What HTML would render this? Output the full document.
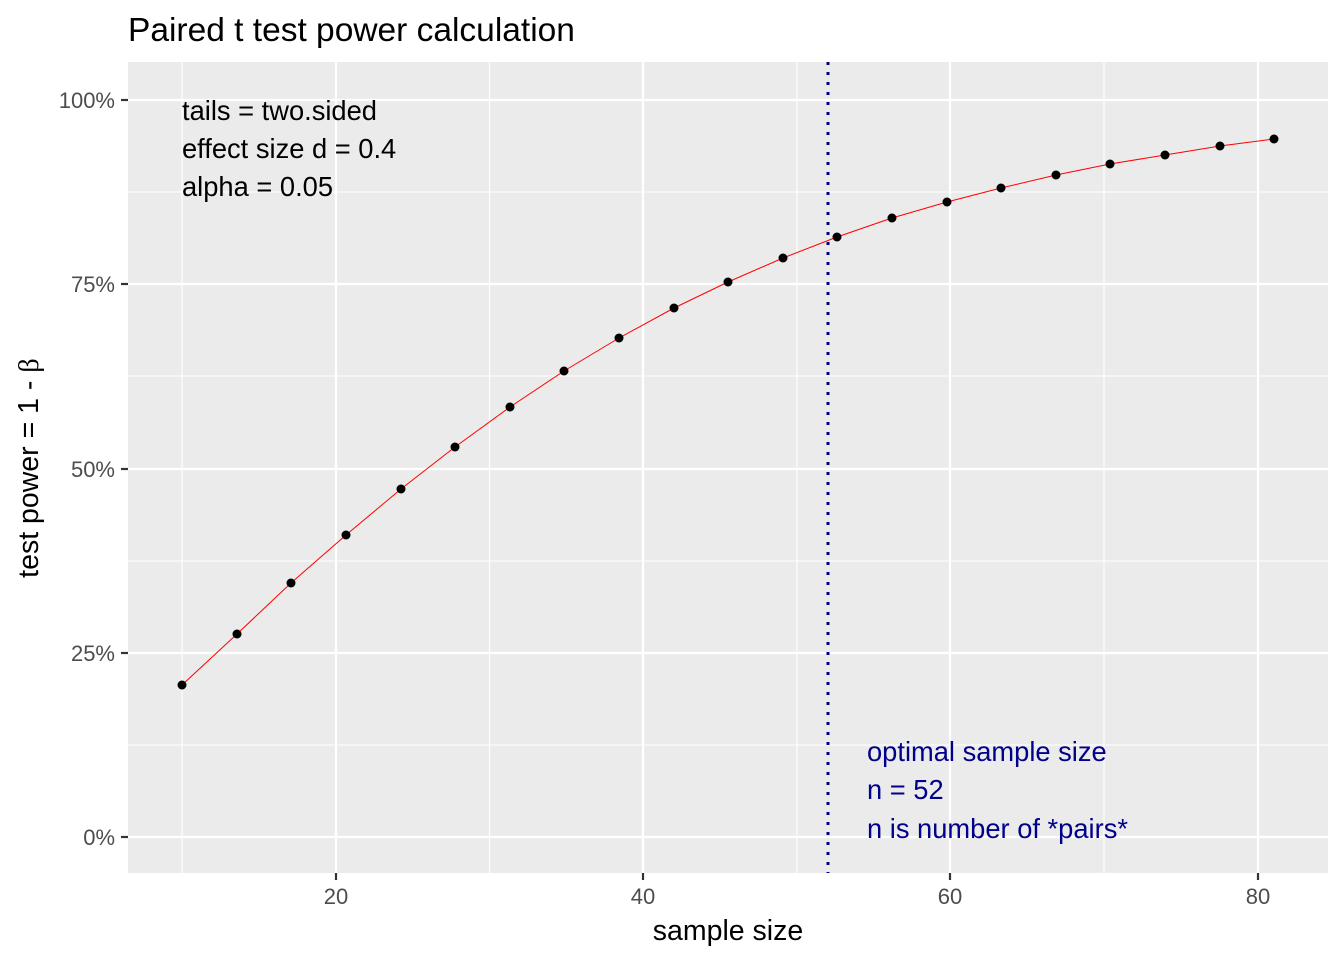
<!DOCTYPE html>
<html><head><meta charset="utf-8"><style>
html,body{margin:0;padding:0;background:#fff;}
svg{display:block;font-family:"Liberation Sans",sans-serif;}
</style></head><body>
<svg width="1344" height="960" viewBox="0 0 1344 960" xmlns="http://www.w3.org/2000/svg">
<rect width="1344" height="960" fill="#fff"/>
<text x="128" y="41" font-size="33.5" fill="#000">Paired t test power calculation</text>
<rect x="128" y="62" width="1200" height="811" fill="#ebebeb"/>
<g stroke="#fff" stroke-width="1.1">
<line x1="128" x2="1328" y1="745" y2="745"/><line x1="128" x2="1328" y1="561" y2="561"/>
<line x1="128" x2="1328" y1="376" y2="376"/><line x1="128" x2="1328" y1="192" y2="192"/>
<line x1="182" x2="182" y1="62" y2="873"/><line x1="489.5" x2="489.5" y1="62" y2="873"/>
<line x1="797" x2="797" y1="62" y2="873"/><line x1="1104" x2="1104" y1="62" y2="873"/>
</g>
<g stroke="#fff" stroke-width="2.2">
<line x1="128" x2="1328" y1="837" y2="837"/><line x1="128" x2="1328" y1="653" y2="653"/>
<line x1="128" x2="1328" y1="469" y2="469"/><line x1="128" x2="1328" y1="284" y2="284"/>
<line x1="128" x2="1328" y1="100" y2="100"/>
<line x1="336" x2="336" y1="62" y2="873"/><line x1="643" x2="643" y1="62" y2="873"/>
<line x1="950" x2="950" y1="62" y2="873"/><line x1="1258" x2="1258" y1="62" y2="873"/>
</g>
<polyline fill="none" stroke="#ff0000" stroke-width="1" points="182,685 237,634 291,583 346,535 401,489 455,447 510,407 564,371 619,338 674,308 728,282 783,258 837,237 892,218 947,202 1001,188 1056,175 1110,164 1165,155 1220,146 1274,139"/>
<g fill="#000">
<circle cx="182" cy="685" r="4.5"/><circle cx="237" cy="634" r="4.5"/><circle cx="291" cy="583" r="4.5"/>
<circle cx="346" cy="535" r="4.5"/><circle cx="401" cy="489" r="4.5"/><circle cx="455" cy="447" r="4.5"/>
<circle cx="510" cy="407" r="4.5"/><circle cx="564" cy="371" r="4.5"/><circle cx="619" cy="338" r="4.5"/>
<circle cx="674" cy="308" r="4.5"/><circle cx="728" cy="282" r="4.5"/><circle cx="783" cy="258" r="4.5"/>
<circle cx="837" cy="237" r="4.5"/><circle cx="892" cy="218" r="4.5"/><circle cx="947" cy="202" r="4.5"/>
<circle cx="1001" cy="188" r="4.5"/><circle cx="1056" cy="175" r="4.5"/><circle cx="1110" cy="164" r="4.5"/>
<circle cx="1165" cy="155" r="4.5"/><circle cx="1220" cy="146" r="4.5"/><circle cx="1274" cy="139" r="4.5"/>
</g>
<line x1="828" x2="828" y1="62" y2="873" stroke="#00008b" stroke-width="3" stroke-dasharray="3,7"/>
<g font-size="27.3" fill="#000">
<text x="182" y="120">tails = two.sided</text>
<text x="182" y="158">effect size d = 0.4</text>
<text x="182" y="196">alpha = 0.05</text>
</g>
<g font-size="27.3" fill="#00008b">
<text x="867" y="761">optimal sample size</text>
<text x="867" y="799">n = 52</text>
<text x="867" y="838">n is number of *pairs*</text>
</g>
<g stroke="#333" stroke-width="2.2">
<line x1="121" x2="128" y1="837" y2="837"/><line x1="121" x2="128" y1="653" y2="653"/>
<line x1="121" x2="128" y1="469" y2="469"/><line x1="121" x2="128" y1="284" y2="284"/>
<line x1="121" x2="128" y1="100" y2="100"/>
<line x1="336" x2="336" y1="873" y2="880"/><line x1="643" x2="643" y1="873" y2="880"/>
<line x1="950" x2="950" y1="873" y2="880"/><line x1="1258" x2="1258" y1="873" y2="880"/>
</g>
<g font-size="22" fill="#4d4d4d" text-anchor="end">
<text x="115" y="845">0%</text><text x="115" y="661">25%</text><text x="115" y="477">50%</text>
<text x="115" y="292">75%</text><text x="115" y="108">100%</text>
</g>
<g font-size="22" fill="#4d4d4d" text-anchor="middle">
<text x="336" y="904">20</text><text x="643" y="904">40</text><text x="950" y="904">60</text><text x="1258" y="904">80</text>
</g>
<text x="728" y="940" font-size="28.5" text-anchor="middle" fill="#000">sample size</text>
<text transform="translate(38,468) rotate(-90)" font-size="28.5" text-anchor="middle" fill="#000">test power = 1 - <tspan font-family="Liberation Serif,serif">β</tspan></text>
</svg>
</body></html>
